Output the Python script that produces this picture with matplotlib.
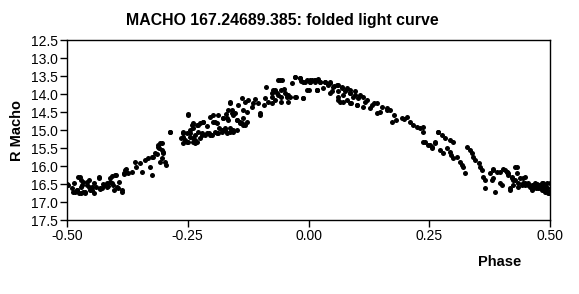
import numpy as np
import matplotlib.pyplot as plt

# folded light curve
phase_left = [-0.499, -0.497, -0.487, -0.479, -0.477, -0.473, -0.472, -0.466, -0.463, -0.459,
              -0.452, -0.449, -0.445, -0.439, -0.433, -0.432, -0.425, -0.418, -0.411, -0.407,
              -0.404, -0.403, -0.399, -0.395, -0.387, -0.383, -0.377, -0.373, -0.366, -0.359,
              -0.357, -0.349, -0.345, -0.339, -0.332, -0.328, -0.325, -0.321, -0.314, -0.311,
              -0.307, -0.304, -0.297, -0.294, -0.287, -0.309, -0.301, -0.260, -0.259, -0.252,
              -0.245, -0.239, -0.235, -0.231, -0.490, -0.470, -0.455, -0.428, -0.415, -0.392,
              -0.500, -0.479, -0.472, -0.469, -0.466, -0.459, -0.455, -0.448, -0.445, -0.434,
              -0.431, -0.424, -0.417, -0.410, -0.407, -0.400, -0.396, -0.386, -0.383, -0.379,
              -0.486, -0.483, -0.476, -0.462, -0.307, -0.311, -0.304, -0.301, -0.318, -0.325,
              -0.304]
mag_left = [16.51, 16.53, 16.71, 16.67, 16.31, 16.30, 16.57, 16.44, 16.71, 16.53,
            16.67, 16.59, 16.75, 16.57, 16.34, 16.65, 16.51, 16.48, 16.44, 16.28,
            16.53, 16.67, 16.25, 16.62, 16.71, 16.22, 16.07, 16.20, 16.16, 15.88,
            16.02, 15.91, 16.16, 15.83, 15.79, 16.02, 16.25, 15.74, 15.67, 15.42,
            15.88, 15.37, 15.88, 15.97, 15.05, 15.50, 15.62, 15.09, 15.19, 15.32,
            15.09, 15.23, 15.37, 15.32, 16.62, 16.75, 16.40, 16.62, 16.55, 16.45,
            16.53, 16.67, 16.39, 16.53, 16.71, 16.44, 16.57, 16.67, 16.48, 16.30,
            16.62, 16.53, 16.57, 16.34, 16.48, 16.25, 16.57, 16.67, 16.20, 16.11,
            16.48, 16.71, 16.76, 16.76, 15.37, 15.46, 15.56, 15.65, 15.65, 15.74,
            15.79]

phase_rise = [-0.242, -0.239, -0.235, -0.228, -0.225, -0.221, -0.218, -0.211, -0.204, -0.197,
              -0.194, -0.190, -0.180, -0.176, -0.173, -0.166, -0.163, -0.163, -0.159, -0.156,
              -0.152, -0.149, -0.142, -0.138, -0.135, -0.135, -0.131, -0.128, -0.128, -0.125,
              -0.118, -0.114, -0.104, -0.100, -0.100, -0.093, -0.087, -0.083, -0.076, -0.076,
              -0.069, -0.063, -0.063, -0.056, -0.055, -0.045, -0.045, -0.038, -0.028, -0.025,
              -0.018, -0.011, -0.007, -0.250, -0.210, -0.185, -0.170, -0.145, -0.110, -0.090,
              -0.070, -0.050, -0.035, -0.015,
              -0.249, -0.287, -0.259, -0.252, -0.245, -0.239, -0.231, -0.225, -0.218, -0.263,
              -0.256, -0.245, -0.235, -0.228, -0.221, -0.214, -0.207, -0.200, -0.194, -0.187,
              -0.180, -0.173, -0.169, -0.163, -0.156, -0.149, -0.259, -0.249, -0.239, -0.204,
              -0.197, -0.190, -0.187, -0.176, -0.169, -0.166, -0.163, -0.159, -0.156, -0.149,
              -0.142, -0.138, -0.135, -0.131]
mag_rise = [14.86, 14.81, 15.28, 14.86, 15.23, 15.14, 14.77, 15.09, 15.14, 14.58,
            14.77, 15.09, 15.00, 14.67, 14.95, 14.72, 14.21, 15.05, 14.44, 15.00,
            14.54, 14.72, 14.81, 14.12, 14.44, 14.86, 14.21, 14.49, 14.77, 14.17,
            14.35, 14.26, 14.26, 14.54, 14.58, 14.31, 13.80, 14.21, 13.98, 14.26,
            13.93, 13.61, 14.03, 14.07, 13.61, 14.03, 14.07, 14.07, 13.52, 14.07,
            13.56, 14.12, 13.66, 14.56, 14.90, 14.95, 14.55, 14.30, 14.15, 14.10,
            13.90, 13.85, 13.70, 13.65,
            14.58, 15.05, 15.05, 15.09, 15.00, 14.95, 14.86, 14.81, 14.77, 15.23,
            15.28, 15.19, 15.14, 15.05, 15.09, 15.14, 15.09, 15.14, 15.05, 15.09,
            15.05, 15.00, 15.09, 14.95, 15.05, 15.00, 15.37, 15.32, 15.32, 14.63,
            14.77, 14.81, 14.58, 14.67, 14.67, 14.44, 14.26, 14.54, 14.58, 14.72,
            14.77, 14.81, 14.67, 14.86]

phase_peak = [-0.059, -0.028, -0.018, -0.011, -0.004, 0.003, 0.013, 0.024, 0.034, 0.045,
              0.041, 0.051, 0.062, 0.069, 0.076, 0.086, 0.096, -0.073, -0.066, -0.056,
              -0.049, -0.042, -0.028, -0.011, -0.004, 0.017, 0.048, 0.062, 0.065, 0.079,
              0.089, 0.100, -0.076, -0.069, -0.056, -0.042]
mag_peak = [13.61, 13.52, 13.56, 13.66, 13.61, 13.66, 13.61, 13.66, 13.66, 13.66,
            13.75, 13.80, 13.75, 13.84, 13.93, 13.98, 14.03, 13.89, 13.98, 13.89,
            13.98, 14.03, 14.07, 14.12, 13.89, 13.89, 13.93, 14.07, 14.21, 14.17,
            14.26, 14.31, 14.07, 14.17, 14.21, 14.21]

phase_fall = [-0.000, 0.003, 0.003, 0.013, 0.013, 0.017, 0.017, 0.020, 0.024, 0.031,
              0.034, 0.045, 0.045, 0.058, 0.062, 0.062, 0.069, 0.072, 0.072, 0.079,
              0.086, 0.086, 0.086, 0.093, 0.096, 0.100, 0.103, 0.107, 0.113, 0.113,
              0.117, 0.127, 0.131, 0.141, 0.141, 0.148, 0.152, 0.162, 0.162, 0.169,
              0.172, 0.182, 0.193, 0.203, 0.210, 0.217, 0.224, 0.238, 0.238, 0.241,
              0.251, 0.255, 0.262, 0.269, 0.008, 0.040, 0.052, 0.122, 0.135, 0.178,
              0.198, 0.230]
mag_fall = [13.89, 13.61, 13.66, 13.61, 13.66, 13.89, 13.89, 13.59, 13.66, 13.84,
            13.68, 13.70, 13.98, 13.75, 13.93, 14.17, 13.80, 14.03, 14.21, 13.84,
            13.89, 13.98, 14.26, 14.07, 13.93, 14.31, 14.12, 14.03, 14.07, 14.35,
            14.21, 14.40, 14.31, 14.26, 14.54, 14.49, 14.35, 14.40, 14.44, 14.44,
            14.77, 14.72, 14.68, 14.63, 14.77, 14.86, 14.91, 14.91, 15.05, 15.32,
            15.42, 15.46, 15.32, 15.05, 13.62, 13.72, 13.78, 14.18, 14.25, 14.58,
            14.70, 14.95]

phase_right = [0.238, 0.248, 0.255, 0.262, 0.269, 0.272, 0.276, 0.279, 0.283, 0.286,
               0.293, 0.293, 0.296, 0.300, 0.300, 0.307, 0.314, 0.317, 0.320, 0.324,
               0.328, 0.334, 0.338, 0.341, 0.345, 0.352, 0.355, 0.359, 0.362, 0.365,
               0.365, 0.376, 0.379, 0.383, 0.386, 0.396, 0.396, 0.403, 0.410, 0.414,
               0.417, 0.421, 0.427, 0.431, 0.431, 0.434, 0.438, 0.445, 0.448, 0.455,
               0.462, 0.469, 0.472, 0.476, 0.479, 0.483, 0.486, 0.490, 0.493, 0.497,
               0.499, 0.465, 0.474, 0.481, 0.488, 0.495,
               0.383, 0.390, 0.383, 0.400, 0.407, 0.410, 0.414, 0.421, 0.428, 0.424,
               0.424, 0.434, 0.441, 0.445, 0.448, 0.448, 0.455, 0.459, 0.462, 0.465,
               0.472, 0.476, 0.479, 0.483, 0.486, 0.490, 0.493, 0.497, 0.493, 0.490,
               0.486, 0.417]
mag_right = [15.32, 15.42, 15.51, 15.37, 15.05, 15.56, 15.14, 15.65, 15.23, 15.51,
             15.28, 15.60, 15.69, 15.32, 15.79, 15.74, 15.88, 15.97, 16.02, 16.20,
             15.46, 15.56, 15.65, 15.74, 15.83, 15.93, 16.02, 16.11, 16.30, 16.39,
             16.62, 16.20, 16.39, 16.07, 16.71, 16.48, 16.16, 16.07, 16.16, 16.20,
             16.67, 16.30, 16.39, 16.02, 16.20, 16.48, 16.34, 16.48, 16.53, 16.48,
             16.53, 16.48, 16.57, 16.62, 16.53, 16.48, 16.57, 16.67, 16.62, 16.71,
             16.48, 16.60, 16.50, 16.62, 16.55, 16.75,
             16.11, 16.16, 16.34, 16.53, 16.11, 16.16, 16.25, 16.34, 16.02, 16.39,
             16.53, 16.57, 16.53, 16.34, 16.30, 16.48, 16.53, 16.57, 16.67, 16.57,
             16.62, 16.53, 16.62, 16.67, 16.57, 16.71, 16.62, 16.76, 16.48, 16.53,
             16.48, 16.62]

phase = np.array(phase_left + phase_rise + phase_peak + phase_fall + phase_right)
mag = np.array(mag_left + mag_rise + mag_peak + mag_fall + mag_right)

plt.rcParams['font.family'] = ['Liberation Sans', 'DejaVu Sans']

fig = plt.figure(figsize=(5.79, 2.94), dpi=100)
ax = fig.add_axes([67/579, 1-220/294, 483/579, 180/294])

ax.scatter(phase, mag, s=13, c='black', linewidths=0)

ax.set_xlim(-0.5, 0.5)
ax.set_ylim(17.5, 12.5)
ax.set_xticks([-0.5, -0.25, 0, 0.25, 0.5])
ax.set_xticklabels(['-0.50', '-0.25', '0.00', '0.25', '0.50'])
ax.set_yticks(np.arange(12.5, 17.51, 0.5))
ax.set_yticklabels(['%.1f' % v for v in np.arange(12.5, 17.51, 0.5)])
ax.tick_params(direction='out', length=5, width=1, labelsize=10, pad=1.5)
for s in ax.spines.values():
    s.set_linewidth(1)

fig.text(282/579, 1-20/294, 'MACHO 167.24689.385: folded light curve',
         ha='center', va='center', fontsize=11.4, fontweight='bold')
fig.text(17/579, 1-131/294, 'R Macho', rotation=90, ha='center', va='center',
         fontsize=10.5, fontweight='bold')
fig.text(500/579, 1-262/294, 'Phase', ha='center', va='center',
         fontsize=10.5, fontweight='bold')

fig.savefig('out.png', dpi=100)
